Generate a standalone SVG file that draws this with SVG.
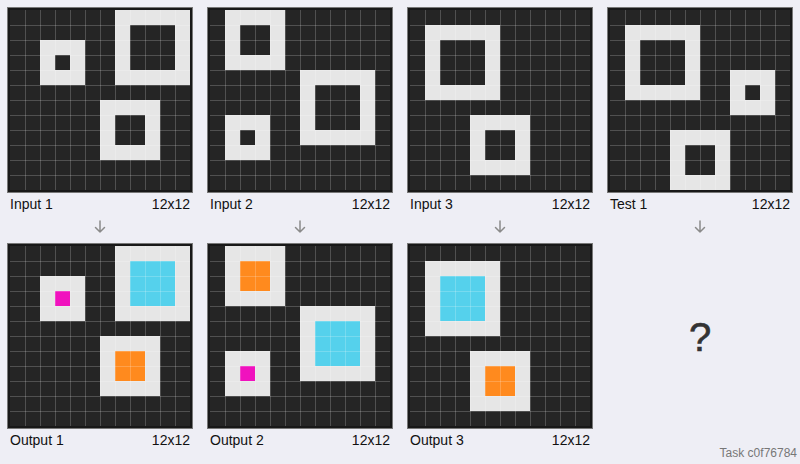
<svg xmlns="http://www.w3.org/2000/svg" xmlns:xlink="http://www.w3.org/1999/xlink" width="800" height="464" viewBox="0 0 800 464">
<style>
.frame{fill:#181818;stroke:#777;stroke-width:1}
.bg{fill:#252525}
.w{fill:#e6e6e6}
.cy{fill:#55d1ec}
.or{fill:#ff8a1e}
.mg{fill:#f012be}
.gl{fill:none;stroke:#fff;stroke-opacity:0.2;stroke-width:1}
.lbl{font-family:"Liberation Sans",Arial,sans-serif;font-size:14px;fill:#111}
.end{text-anchor:end}
.arrow{fill:none;stroke:#8a8a8a;stroke-width:1.5;stroke-linecap:round;stroke-linejoin:round}
.q{font-family:"Liberation Sans",Arial,sans-serif;font-size:40px;fill:#333;text-anchor:middle;stroke:#333;stroke-width:0.6}
.task{font-family:"Liberation Sans",Arial,sans-serif;font-size:12px;fill:#777;text-anchor:end}
</style>
<defs>
<g id="base">
<rect class="frame" x="-2.5" y="-2.5" width="185" height="185"/>
<rect class="bg" x="0" y="0" width="180" height="180"/>
</g>
<path id="gl" class="gl" d="M15.5 0V180M30.5 0V180M45.5 0V180M60.5 0V180M75.5 0V180M90.5 0V180M105.5 0V180M120.5 0V180M135.5 0V180M150.5 0V180M165.5 0V180M0 15.5H180M0 30.5H180M0 45.5H180M0 60.5H180M0 75.5H180M0 90.5H180M0 105.5H180M0 120.5H180M0 135.5H180M0 150.5H180M0 165.5H180"/>
</defs>
<rect x="0" y="0" width="800" height="464" fill="#eeeef5"/>

<g id="input-1" transform="translate(10,10)">
<use xlink:href="#base"/>
<rect class="w" x="30" y="30" width="45" height="45"/><rect class="bg" x="45" y="45" width="15" height="15"/>
<rect class="w" x="105" y="0" width="75" height="75"/><rect class="bg" x="120" y="15" width="45" height="45"/>
<rect class="w" x="90" y="90" width="60" height="60"/><rect class="bg" x="105" y="105" width="30" height="30"/>
<use xlink:href="#gl"/>
<text class="lbl" x="0" y="199">Input 1</text><text class="lbl end" x="180" y="199">12x12</text>
</g>

<g id="input-2" transform="translate(210,10)">
<use xlink:href="#base"/>
<rect class="w" x="15" y="0" width="60" height="60"/><rect class="bg" x="30" y="15" width="30" height="30"/>
<rect class="w" x="90" y="60" width="75" height="75"/><rect class="bg" x="105" y="75" width="45" height="45"/>
<rect class="w" x="15" y="105" width="45" height="45"/><rect class="bg" x="30" y="120" width="15" height="15"/>
<use xlink:href="#gl"/>
<text class="lbl" x="0" y="199">Input 2</text><text class="lbl end" x="180" y="199">12x12</text>
</g>

<g id="input-3" transform="translate(410,10)">
<use xlink:href="#base"/>
<rect class="w" x="15" y="15" width="75" height="75"/><rect class="bg" x="30" y="30" width="45" height="45"/>
<rect class="w" x="60" y="105" width="60" height="60"/><rect class="bg" x="75" y="120" width="30" height="30"/>
<use xlink:href="#gl"/>
<text class="lbl" x="0" y="199">Input 3</text><text class="lbl end" x="180" y="199">12x12</text>
</g>

<g id="test-1" transform="translate(610,10)">
<use xlink:href="#base"/>
<rect class="w" x="15" y="15" width="75" height="75"/><rect class="bg" x="30" y="30" width="45" height="45"/>
<rect class="w" x="120" y="60" width="45" height="45"/><rect class="bg" x="135" y="75" width="15" height="15"/>
<rect class="w" x="60" y="120" width="60" height="60"/><rect class="bg" x="75" y="135" width="30" height="30"/>
<use xlink:href="#gl"/>
<text class="lbl" x="0" y="199">Test 1</text><text class="lbl end" x="180" y="199">12x12</text>
</g>

<g id="output-1" transform="translate(10,246)">
<use xlink:href="#base"/>
<rect class="w" x="30" y="30" width="45" height="45"/><rect class="mg" x="45" y="45" width="15" height="15"/>
<rect class="w" x="105" y="0" width="75" height="75"/><rect class="cy" x="120" y="15" width="45" height="45"/>
<rect class="w" x="90" y="90" width="60" height="60"/><rect class="or" x="105" y="105" width="30" height="30"/>
<use xlink:href="#gl"/>
<text class="lbl" x="0" y="199">Output 1</text><text class="lbl end" x="180" y="199">12x12</text>
</g>

<g id="output-2" transform="translate(210,246)">
<use xlink:href="#base"/>
<rect class="w" x="15" y="0" width="60" height="60"/><rect class="or" x="30" y="15" width="30" height="30"/>
<rect class="w" x="90" y="60" width="75" height="75"/><rect class="cy" x="105" y="75" width="45" height="45"/>
<rect class="w" x="15" y="105" width="45" height="45"/><rect class="mg" x="30" y="120" width="15" height="15"/>
<use xlink:href="#gl"/>
<text class="lbl" x="0" y="199">Output 2</text><text class="lbl end" x="180" y="199">12x12</text>
</g>

<g id="output-3" transform="translate(410,246)">
<use xlink:href="#base"/>
<rect class="w" x="15" y="15" width="75" height="75"/><rect class="cy" x="30" y="30" width="45" height="45"/>
<rect class="w" x="60" y="105" width="60" height="60"/><rect class="or" x="75" y="120" width="30" height="30"/>
<use xlink:href="#gl"/>
<text class="lbl" x="0" y="199">Output 3</text><text class="lbl end" x="180" y="199">12x12</text>
</g>

<g id="test-output">
<text class="q" x="700" y="351">?</text>
</g>

<g id="connectors">
<path class="arrow" d="M100 221V232M95.5 227.5L100 232L104.5 227.5"/>
<path class="arrow" d="M300 221V232M295.5 227.5L300 232L304.5 227.5"/>
<path class="arrow" d="M500 221V232M495.5 227.5L500 232L504.5 227.5"/>
<path class="arrow" d="M700 221V232M695.5 227.5L700 232L704.5 227.5"/>
</g>

<text class="task" x="797" y="457">Task c0f76784</text>
</svg>
